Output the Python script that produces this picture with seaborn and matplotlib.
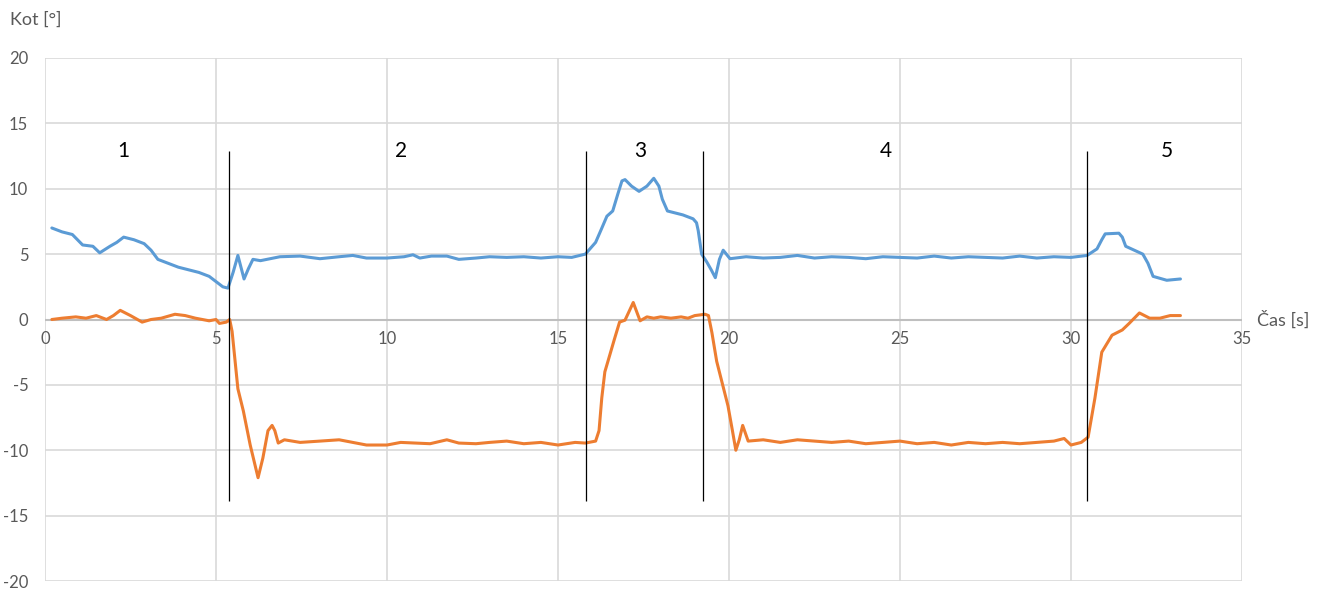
import pandas as pd
import matplotlib.pyplot as plt
import seaborn as sns

# odčitane vrednosti
cas_modra = [0.2, 0.5, 0.8, 1.1, 1.4, 1.6, 1.9, 2.1, 2.3, 2.6, 2.9, 3.1, 3.3, 3.6, 3.9, 4.2, 4.5,
             4.8, 5.0, 5.2, 5.35, 5.5, 5.64, 5.73, 5.82, 5.95, 6.08, 6.3, 6.87, 7.46, 8.04, 8.6, 9.0,
             9.4, 10.0, 10.5, 10.76, 10.96, 11.3, 11.75, 12.1, 12.6, 13.0, 13.5, 14.0, 14.5, 15.0,
             15.4, 15.8, 16.1, 16.25, 16.43, 16.6, 16.75, 16.87, 16.96, 17.15, 17.37, 17.6, 17.8,
             17.95, 18.05, 18.2, 18.65, 18.95, 19.05, 19.1, 19.2, 19.35, 19.48, 19.6, 19.72, 19.83,
             20.03, 20.5, 21.0, 21.5, 22.0, 22.5, 23.0, 23.5, 24.0, 24.5, 25.0, 25.5, 26.0, 26.5,
             27.0, 27.5, 28.0, 28.5, 29.0, 29.5, 30.0, 30.47, 30.76, 30.9, 31.0, 31.4, 31.5, 31.6,
             32.1, 32.25, 32.4, 32.8, 33.2]
kot_modra = [7.0, 6.7, 6.5, 5.7, 5.6, 5.1, 5.6, 5.9, 6.3, 6.1, 5.8, 5.3, 4.6, 4.3, 4.0, 3.8, 3.6,
             3.3, 2.9, 2.5, 2.4, 3.6, 4.9, 4.0, 3.1, 3.9, 4.6, 4.5, 4.8, 4.85, 4.65, 4.8, 4.9,
             4.7, 4.7, 4.8, 4.95, 4.7, 4.85, 4.85, 4.6, 4.7, 4.8, 4.75, 4.8, 4.7, 4.8,
             4.75, 5.0, 5.9, 6.8, 7.9, 8.3, 9.6, 10.6, 10.7, 10.2, 9.8, 10.2, 10.8,
             10.2, 9.2, 8.3, 8.0, 7.7, 7.4, 6.8, 5.0, 4.4, 3.8, 3.2, 4.6, 5.3,
             4.65, 4.8, 4.7, 4.75, 4.9, 4.7, 4.8, 4.75, 4.65, 4.8, 4.75, 4.7, 4.85, 4.7,
             4.8, 4.75, 4.7, 4.85, 4.7, 4.8, 4.75, 4.9, 5.4, 6.1, 6.55, 6.6, 6.3, 5.6,
             5.0, 4.3, 3.3, 3.0, 3.1]

cas_oranzna = [0.2, 0.5, 0.9, 1.2, 1.5, 1.8, 2.0, 2.2, 2.5, 2.84, 3.1, 3.4, 3.8, 4.1, 4.4, 4.8,
               5.0, 5.1, 5.3, 5.4, 5.47, 5.64, 5.8, 6.0, 6.23, 6.37, 6.52, 6.64, 6.72, 6.82, 7.0,
               7.46, 8.04, 8.6, 9.4, 10.0, 10.4, 11.26, 11.75, 12.1, 12.6, 13.0, 13.5, 14.0, 14.5,
               15.0, 15.5, 15.8, 16.1, 16.2, 16.28, 16.37, 16.46, 16.65, 16.8, 16.96, 17.2, 17.4,
               17.6, 17.8, 18.0, 18.3, 18.6, 18.8, 19.0, 19.3, 19.4, 19.5, 19.64, 19.97, 20.1, 20.2,
               20.3, 20.4, 20.56, 21.0, 21.5, 22.0, 22.5, 23.0, 23.5, 24.0, 24.5, 25.0, 25.5, 26.0,
               26.5, 27.0, 27.5, 28.0, 28.5, 29.0, 29.5, 29.8, 30.0, 30.3, 30.5, 30.6, 30.7, 30.9,
               31.2, 31.5, 31.7, 32.0, 32.3, 32.6, 32.9, 33.2]
kot_oranzna = [0.0, 0.1, 0.2, 0.1, 0.3, 0.0, 0.3, 0.7, 0.3, -0.2, 0.0, 0.1, 0.4, 0.3, 0.1, -0.1,
               0.0, -0.3, -0.2, 0.0, -0.9, -5.3, -7.0, -9.6, -12.1, -10.6, -8.5, -8.1, -8.5, -9.45,
               -9.2, -9.4, -9.3, -9.2, -9.6, -9.6, -9.4, -9.5, -9.2, -9.45, -9.5, -9.4, -9.3, -9.5,
               -9.4, -9.6, -9.4, -9.45, -9.3, -8.5, -6.0, -4.0, -3.2, -1.5, -0.2, -0.05, 1.3, -0.1,
               0.2, 0.1, 0.2, 0.1, 0.2, 0.1, 0.3, 0.4, 0.3, -1.0, -3.2, -6.6, -8.5, -10.0, -9.2,
               -8.1, -9.3, -9.2, -9.4, -9.2, -9.3, -9.4, -9.3, -9.5, -9.4, -9.3, -9.5, -9.4, -9.6,
               -9.4, -9.5, -9.4, -9.5, -9.4, -9.3, -9.1, -9.6, -9.4, -9.0, -7.5, -6.0, -2.5, -1.2,
               -0.8, -0.3, 0.5, 0.1, 0.1, 0.3, 0.3]

meje = [5.38, 15.82, 19.24, 30.47]
faze = ['1', '2', '3', '4', '5']
faze_x = [2.28, 10.4, 17.4, 24.6, 32.8]
x_ticks = [0, 5, 10, 15, 20, 25, 30, 35]
y_ticks = [-20, -15, -10, -5, 0, 5, 10, 15, 20]

df = pd.concat([
    pd.DataFrame({'cas': cas_modra, 'kot': kot_modra, 'serija': 'modra'}),
    pd.DataFrame({'cas': cas_oranzna, 'kot': kot_oranzna, 'serija': 'oranzna'}),
])

sns.set_style('white')
plt.rcParams['font.family'] = ['Lato', 'DejaVu Sans']

fig = plt.figure(figsize=(13.22, 5.89), dpi=100)
ax = fig.add_axes([45 / 1322, 1 - 581 / 589, (1242 - 45) / 1322, (581 - 58) / 589])

sns.lineplot(data=df, x='cas', y='kot', hue='serija', sort=False, estimator=None,
             palette={'modra': '#5B9BD5', 'oranzna': '#ED7D31'}, lw=2.2, legend=False, ax=ax)
for l in ax.lines:
    l.set_solid_joinstyle('round')

ax.set_xlim(0, 35)
ax.set_ylim(-20, 20)
ax.set_xticks(x_ticks)
ax.set_yticks(y_ticks)
ax.grid(True, color='#D9D9D9', lw=1.2)
ax.axhline(0, color='#BFBFBF', lw=1.5, zorder=1)
for s in ax.spines.values():
    s.set_visible(False)
ax.tick_params(length=0)
ax.set_xticklabels([])
ax.set_yticklabels([str(v) for v in y_ticks], color='#595959', fontsize=12)
ax.tick_params(axis='y', pad=12)
ax.set_xlabel('')
ax.set_ylabel('')

for v in x_ticks:
    ax.annotate(str(v), (v, 0), xytext=(0, -8), textcoords='offset points',
                ha='center', va='top', color='#595959', fontsize=12)

ax.vlines(meje, -13.9, 12.9, color='black', lw=0.9)
for x, t in zip(faze_x, faze):
    ax.text(x, 12.9, t, ha='center', va='center', fontsize=15, color='black')

ax.annotate('Čas [s]', (35, 0), xytext=(11, 0), textcoords='offset points',
            ha='left', va='center', color='#595959', fontsize=13, annotation_clip=False)
fig.text(10 / 1322, 1 - 20 / 589, 'Kot [°]', ha='left', va='center', color='#595959', fontsize=13)

plt.savefig('out.png')
